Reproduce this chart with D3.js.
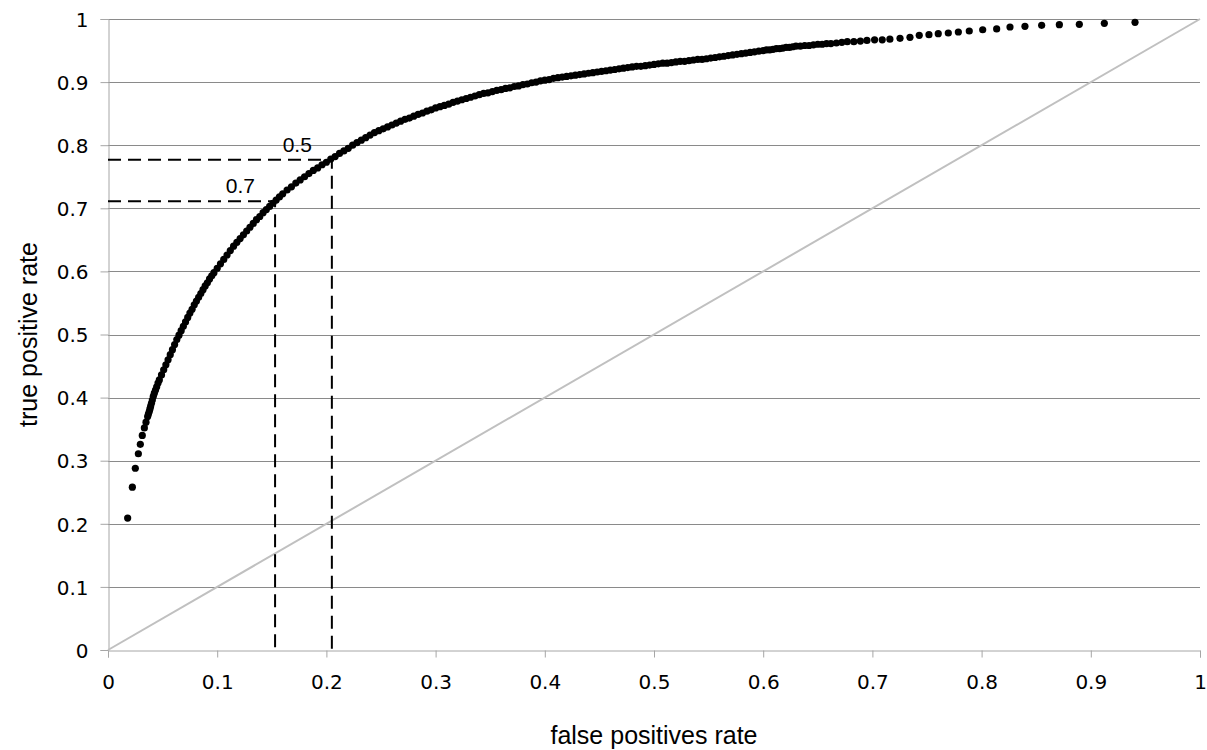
<!DOCTYPE html>
<html>
<head>
<meta charset="utf-8">
<script src="https://cdnjs.cloudflare.com/ajax/libs/d3/7.8.5/d3.min.js"></script>
<style>
  body { margin: 0; background: #fff; }
</style>
</head>
<body>
<div id="root"></div>
<script>
// ROC points (false positive rate, true positive rate)
var fpr = [
  0.018, 0.0223, 0.025, 0.0278, 0.0296, 0.0314, 0.0333, 0.0348,
  0.0363, 0.0370, 0.0378, 0.0384, 0.0390, 0.0398, 0.0406, 0.0415, 0.0424, 0.0435, 0.0446, 0.0458,
  0.047, 0.049, 0.051, 0.053, 0.055, 0.057, 0.059, 0.061, 0.063, 0.065, 0.067, 0.069, 0.071, 0.073,
  0.075, 0.077, 0.079, 0.081, 0.083, 0.085, 0.087, 0.089, 0.091, 0.093, 0.095, 0.097,
  0.100, 0.103, 0.106, 0.109, 0.112, 0.115, 0.118, 0.121, 0.124, 0.127, 0.130, 0.133, 0.136, 0.139,
  0.142, 0.145, 0.148, 0.151, 0.154, 0.157, 0.160, 0.164, 0.168, 0.172, 0.176, 0.180, 0.184, 0.188,
  0.192, 0.196, 0.200, 0.204, 0.208, 0.212, 0.216, 0.220, 0.224, 0.228, 0.232, 0.236, 0.240, 0.244,
  0.248, 0.252, 0.256, 0.260, 0.264, 0.268, 0.272, 0.276, 0.280, 0.284, 0.288, 0.292, 0.296,
  0.300, 0.304, 0.308, 0.312, 0.316, 0.320, 0.324, 0.328, 0.332, 0.336, 0.340, 0.344, 0.348, 0.352,
  0.356, 0.360, 0.364, 0.368, 0.372, 0.376, 0.380, 0.384, 0.388, 0.392, 0.396, 0.400, 0.404, 0.408,
  0.412, 0.416, 0.420, 0.424, 0.428, 0.432, 0.436, 0.440, 0.444, 0.448, 0.452, 0.456, 0.460, 0.464,
  0.468, 0.472, 0.476, 0.480, 0.484, 0.488, 0.492, 0.496, 0.500, 0.504, 0.508, 0.512, 0.516, 0.520,
  0.524, 0.528, 0.532, 0.536, 0.540, 0.544, 0.548, 0.552, 0.556, 0.560, 0.564, 0.568, 0.572, 0.576,
  0.580, 0.584, 0.588, 0.592, 0.596, 0.600,
  0.603, 0.606, 0.609, 0.612, 0.615, 0.618, 0.621, 0.624, 0.627, 0.630, 0.634, 0.638, 0.642, 0.646,
  0.650, 0.654, 0.658, 0.662, 0.667, 0.672, 0.677, 0.683, 0.689, 0.695, 0.702, 0.709, 0.716,
  0.7253, 0.7344, 0.7429, 0.7518, 0.7603, 0.7695, 0.7787, 0.7887, 0.8010, 0.8138, 0.8260, 0.8397,
  0.8550, 0.8712, 0.8895, 0.9124, 0.9405
];
var tpr = [
  0.209, 0.258, 0.288, 0.311, 0.326, 0.340, 0.352, 0.361,
  0.370, 0.374, 0.378, 0.382, 0.386, 0.391, 0.396, 0.402, 0.407, 0.412, 0.417, 0.423,
  0.428, 0.436, 0.444, 0.452, 0.460, 0.468, 0.476, 0.484, 0.492, 0.499, 0.506, 0.513, 0.520, 0.527,
  0.534, 0.540, 0.547, 0.553, 0.559, 0.565, 0.571, 0.577, 0.582, 0.588, 0.593, 0.598,
  0.605, 0.612, 0.619, 0.626, 0.633, 0.640, 0.646, 0.652, 0.658, 0.664, 0.670, 0.676, 0.682, 0.687,
  0.693, 0.698, 0.703, 0.708, 0.713, 0.718, 0.723, 0.729, 0.734, 0.740, 0.745, 0.750, 0.755, 0.760,
  0.764, 0.769, 0.773, 0.778, 0.782, 0.787, 0.791, 0.795, 0.800, 0.804, 0.808, 0.812, 0.816, 0.820,
  0.823, 0.826, 0.829, 0.832, 0.835, 0.838, 0.841, 0.843, 0.846, 0.849, 0.851, 0.854, 0.856,
  0.859, 0.861, 0.863, 0.865, 0.868, 0.870, 0.872, 0.874, 0.876, 0.878, 0.880, 0.882, 0.883, 0.885,
  0.887, 0.888, 0.890, 0.891, 0.893, 0.894, 0.896, 0.897, 0.899, 0.900, 0.902, 0.903, 0.904, 0.906,
  0.907, 0.908, 0.909, 0.910, 0.911, 0.912, 0.913, 0.914, 0.915, 0.916, 0.917, 0.918, 0.919, 0.920,
  0.921, 0.922, 0.923, 0.924, 0.925, 0.925, 0.926, 0.927, 0.928, 0.929, 0.930, 0.930, 0.931, 0.932,
  0.933, 0.933, 0.934, 0.935, 0.936, 0.936, 0.937, 0.938, 0.939, 0.940, 0.941, 0.942, 0.943, 0.944,
  0.945, 0.946, 0.947, 0.948, 0.949, 0.950,
  0.951, 0.951, 0.952, 0.953, 0.953, 0.954, 0.955, 0.955, 0.956, 0.957, 0.957, 0.958, 0.958, 0.959,
  0.960, 0.960, 0.961, 0.961, 0.962, 0.963, 0.964, 0.964, 0.965, 0.966, 0.967, 0.967, 0.968,
  0.9694, 0.9710, 0.9741, 0.9751, 0.9767, 0.9778, 0.9794, 0.9810, 0.9830, 0.9842, 0.9873, 0.9884,
  0.9900, 0.9910, 0.9916, 0.9932, 0.9948
];

// the two marked thresholds
var thresholdLabels = ["0.5", "0.7"];
var thresholdFpr = [0.205, 0.153];
var thresholdTpr = [0.777, 0.711];

var ticks = [0, 0.1, 0.2, 0.3, 0.4, 0.5, 0.6, 0.7, 0.8, 0.9, 1];

var width = 1207, height = 750;
var margin = {top: 19, right: 7, bottom: 100, left: 108};

var svg = d3.select("#root").append("svg")
    .attr("width", width)
    .attr("height", height);

var x = d3.scaleLinear().domain([0, 1]).range([margin.left, width - margin.right]);
var y = d3.scaleLinear().domain([0, 1]).range([height - margin.bottom, margin.top]);

var fmt = function(d) { return d === 0 || d === 1 ? String(d) : d3.format(".1f")(d); };

// horizontal grid lines
svg.append("g").selectAll("line")
    .data(ticks.slice(1))
  .enter().append("line")
    .attr("x1", x(0)).attr("x2", x(1))
    .attr("y1", function(d) { return Math.round(y(d)) + 0.5; })
    .attr("y2", function(d) { return Math.round(y(d)) + 0.5; })
    .style("stroke", "#8a8a8a")
    .style("stroke-width", 1);

// axes
var xAxis = svg.append("g")
    .attr("transform", "translate(0," + (Math.round(y(0)) + 0.5) + ")")
    .call(d3.axisBottom(x).tickValues(ticks).tickFormat(fmt).tickSize(7).tickPadding(17));
var yAxis = svg.append("g")
    .attr("transform", "translate(" + (Math.round(x(0)) + 0.5) + ",0)")
    .call(d3.axisLeft(y).tickValues(ticks).tickFormat(fmt).tickSize(8).tickPadding(12));
[xAxis, yAxis].forEach(function(a) {
  a.select(".domain").style("stroke", "#a6a6a6");
  a.selectAll(".tick line").style("stroke", "#a6a6a6");
  a.selectAll(".tick text")
    .style("font-family", "'DejaVu Sans', Verdana, sans-serif")
    .style("font-size", "20px")
    .style("fill", "#000");
});
yAxis.selectAll(".tick text").attr("dy", "0.36em");

// random-guess diagonal
svg.append("line")
    .attr("x1", x(0)).attr("y1", y(0))
    .attr("x2", x(1)).attr("y2", y(1))
    .style("stroke", "#c0c0c0")
    .style("stroke-width", 2);

// dashed threshold markers
var marks = svg.append("g").selectAll("g")
    .data(thresholdLabels)
  .enter().append("g");

marks.append("path")
    .attr("d", function(d, i) {
      return "M" + x(0) + "," + y(thresholdTpr[i]) +
             "H" + x(thresholdFpr[i]) +
             "V" + y(0);
    })
    .style("fill", "none")
    .style("stroke", "#000")
    .style("stroke-width", 2)
    .style("stroke-dasharray", "13,7");

marks.append("text")
    .attr("x", function(d, i) { return x(thresholdFpr[i]) - 20; })
    .attr("y", function(d, i) { return y(thresholdTpr[i]) - 8; })
    .attr("text-anchor", "end")
    .style("font-family", "'Liberation Sans', Arial, sans-serif")
    .style("font-size", "21px")
    .text(function(d) { return d; });

// the ROC points
svg.append("g").selectAll("circle")
    .data(fpr)
  .enter().append("circle")
    .attr("cx", function(d) { return x(d); })
    .attr("cy", function(d, i) { return y(tpr[i]); })
    .attr("r", 3.6)
    .style("fill", "#000");

// axis titles
svg.append("text")
    .attr("x", (x(0) + x(1)) / 2)
    .attr("y", 744)
    .attr("text-anchor", "middle")
    .style("font-family", "'Liberation Sans', Arial, sans-serif")
    .style("font-size", "25px")
    .text("false positives rate");

svg.append("text")
    .attr("transform", "translate(37," + (y(0.5)) + ") rotate(-90)")
    .attr("text-anchor", "middle")
    .style("font-family", "'Liberation Sans', Arial, sans-serif")
    .style("font-size", "25px")
    .text("true positive rate");
</script>
</body>
</html>
